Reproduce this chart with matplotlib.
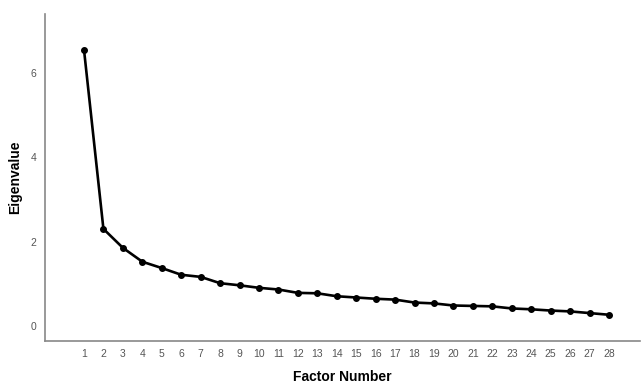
import matplotlib
matplotlib.use("Agg")
import matplotlib.pyplot as plt

plt.rcParams['font.family'] = ['Liberation Sans', 'DejaVu Sans']

factors = list(range(1, 29))
eigenvalues = [6.56, 2.30, 1.85, 1.52, 1.37, 1.21, 1.16, 1.01, 0.96, 0.90,
               0.86, 0.78, 0.77, 0.70, 0.67, 0.64, 0.62, 0.55, 0.53, 0.48,
               0.47, 0.46, 0.41, 0.39, 0.36, 0.34, 0.30, 0.26]
y_ticks = [0, 2, 4, 6]

fig = plt.figure(figsize=(6.44, 3.83), dpi=100)
ax = fig.add_axes([0.07, 0.11, 0.924, 0.853])

ax.plot(factors, eigenvalues, color='black', linewidth=1.9,
        marker='o', markersize=4)

ax.set_xlim(-1.0, 29.6)
ax.set_ylim(-0.36, 7.4)
ax.set_xticks(factors)
ax.set_yticks(y_ticks)
ax.tick_params(length=0, labelsize=7.5, labelcolor='#555555', pad=6)

for side in ['top', 'right']:
    ax.spines[side].set_visible(False)
for side in ['left', 'bottom']:
    ax.spines[side].set_color('#888888')
    ax.spines[side].set_linewidth(1.2)

ax.set_xlabel('Factor Number', fontsize=10, fontweight='bold', labelpad=8)
ax.set_ylabel('Eigenvalue', fontsize=10, fontweight='bold', labelpad=6)

fig.savefig('out.png', dpi=100)
